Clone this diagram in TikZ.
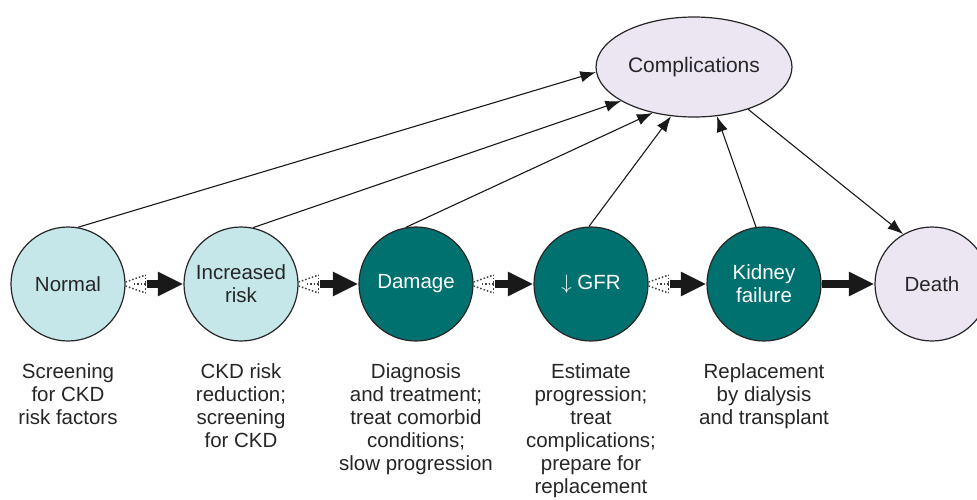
\documentclass[tikz,border=0pt]{standalone}
\usepackage{fontspec}
\setmainfont{Liberation Sans}
\usetikzlibrary{arrows.meta,positioning,shapes.geometric}
\definecolor{lightstage}{HTML}{C6E7E9}
\definecolor{darkstage}{HTML}{00716E}
\definecolor{endstage}{HTML}{ECE6F3}
\begin{document}
\begin{tikzpicture}[x=1pt, y=1pt,
    stage/.style={circle, draw=black!85, line width=1.2pt, minimum size=114pt, inner sep=0pt, align=center, font=\fontsize{20.5}{23}\selectfont},
    early/.style={stage, fill=lightstage, text=black!85},
    late/.style={stage, fill=darkstage, text=white},
    final/.style={stage, fill=endstage, text=black!85},
    note/.style={align=center, anchor=north, font=\fontsize{20.5}{23}\selectfont, text=black!85},
    arr/.style={-{Latex[length=5.5mm, width=4mm]}, line width=1.1pt, black!90},
    fat/.style={-{Triangle[length=9mm, width=8mm]}, line width=8pt, black!90},
    fade/.style={dotted, line width=1.5pt, black!75},
  ]
    \useasboundingbox (0,0) rectangle (977,-499);
    \node[early] (norm) at (68,-284) {Normal};
    \node[early] (risk) at (241,-284) {Increased\\risk};
    \node[late] (dmg) at (416,-284) {Damage};
    \node[late] (gfr) at (591,-284) {$\downarrow$ GFR};
    \node[late] (kf) at (764,-284) {Kidney\\failure};
    \node[final] (death) at (932,-284) {Death};
    \node[ellipse, draw=black!85, line width=1.2pt, fill=endstage, minimum width=188pt, minimum height=100pt, font=\fontsize{21}{23}\selectfont, text=black!85] (comp) at (694,-67) {Complications};
    % notes below the stages
    \node[note] (n1) at (68,-360) {Screening\\for CKD\\risk factors};
    \node[note] (n2) at (241,-360) {CKD risk\\reduction;\\screening\\for CKD};
    \node[note] (n3) at (416,-360) {Diagnosis\\and treatment;\\treat comorbid\\conditions;\\slow progression};
    \node[note] (n4) at (591,-360) {Estimate\\progression;\\treat\\complications;\\prepare for\\replacement};
    \node[note] (n5) at (764,-360) {Replacement\\by dialysis\\and transplant};
    % progression arrows
    \foreach \a/\b in {norm/risk, risk/dmg, dmg/gfr, gfr/kf} {
      \draw[fade] ([yshift=2pt]\a.east) -- ([xshift=20pt, yshift=9pt]\a.east);
      \draw[fade] ([yshift=-2pt]\a.east) -- ([xshift=20pt, yshift=-9pt]\a.east);
      \draw[fade] ([xshift=8pt]\a.east) -- ([xshift=20pt]\a.east);
      \draw[fade] ([xshift=20pt, yshift=-9pt]\a.east) -- ([xshift=20pt, yshift=9pt]\a.east);
      \draw[fat] ([xshift=21pt]\a.east) -- (\b.west);
    }
    \draw[fat] (kf.east) -- (death.west);
    % complications
    \draw[arr] (norm.80) -- (comp.183);
    \draw[arr] (risk.78) -- (comp.205);
    \draw[arr] (dmg.100) -- (comp.228);
    \draw[arr] (gfr.92) -- (comp.245);
    \draw[arr] (kf.98) -- (comp.295);
    \draw[arr] (comp.322) -- (death.120);
  \end{tikzpicture}
\end{document}
